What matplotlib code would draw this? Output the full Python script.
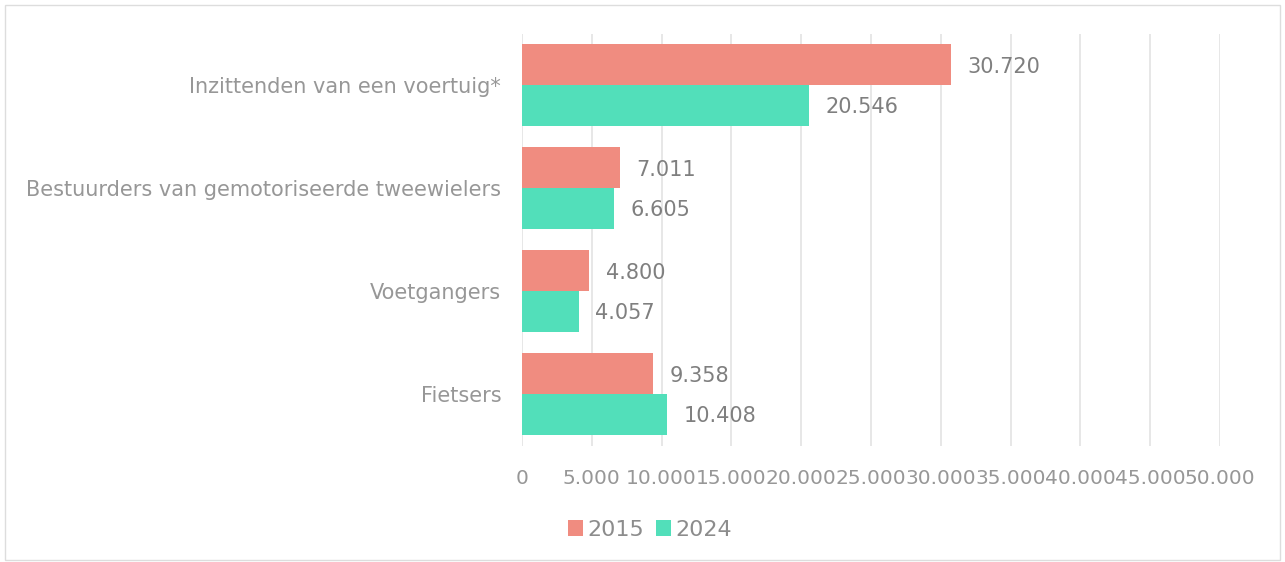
import matplotlib
matplotlib.use("Agg")
import matplotlib.pyplot as plt
from matplotlib.patches import Rectangle
import numpy as np

categories = ["Inzittenden van een voertuig*",
              "Bestuurders van gemotoriseerde tweewielers",
              "Voetgangers",
              "Fietsers"]
values_2015 = [30720, 7011, 4800, 9358]
values_2024 = [20546, 6605, 4057, 10408]
series_names = ["2015", "2024"]
xticks = list(range(0, 50001, 5000))

def fmt(v):
    return f"{v:,}".replace(",", ".")

c2015 = "#F08C80"
c2024 = "#52DFBA"

fig = plt.figure(figsize=(12.85, 5.62), dpi=100)
ax = fig.add_axes([522/1285, 1-445.5/562, (1220-522)/1285, (445.5-33.5)/562])

y = np.arange(len(categories))
h = 0.4
ax.barh(y - h/2, values_2015, height=h, color=c2015, label=series_names[0], zorder=2)
ax.barh(y + h/2, values_2024, height=h, color=c2024, label=series_names[1], zorder=2)

for yi, v in zip(y - h/2, values_2015):
    ax.annotate(fmt(v), (v, yi), xytext=(12, -2), textcoords="offset points",
                va="center", ha="left", fontsize=15, color="#7F7F7F")
for yi, v in zip(y + h/2, values_2024):
    ax.annotate(fmt(v), (v, yi), xytext=(12, -1), textcoords="offset points",
                va="center", ha="left", fontsize=15, color="#7F7F7F")

ax.set_ylim(len(categories) - 0.5, -0.5)
ax.set_xlim(0, 50000)
ax.set_yticks(y)
ax.set_yticklabels(categories, fontsize=15, color="#979797")
ax.set_xticks(xticks)
ax.set_xticklabels([fmt(t) for t in xticks], fontsize=14.5, color="#979797")
ax.tick_params(axis="both", length=0)
ax.tick_params(axis="x", pad=17)
ax.tick_params(axis="y", pad=15)
ax.grid(axis="x", color="#E3E3E3", linewidth=1.2, zorder=0)
for s in ax.spines.values():
    s.set_visible(False)

leg = fig.legend(loc="center", bbox_to_anchor=(650/1285, 1-530/562), ncol=2,
                 frameon=False, fontsize=16, handlelength=0.7, handleheight=0.7,
                 handletextpad=0.2, columnspacing=0.5)
for t in leg.get_texts():
    t.set_color("#8C8C8C")

fig.patches.append(Rectangle((5/1285, 2/562), 1275/1285, 555/562, transform=fig.transFigure,
                             fill=False, edgecolor="#DDDDDD", linewidth=1))

fig.savefig("out.png", dpi=100)
